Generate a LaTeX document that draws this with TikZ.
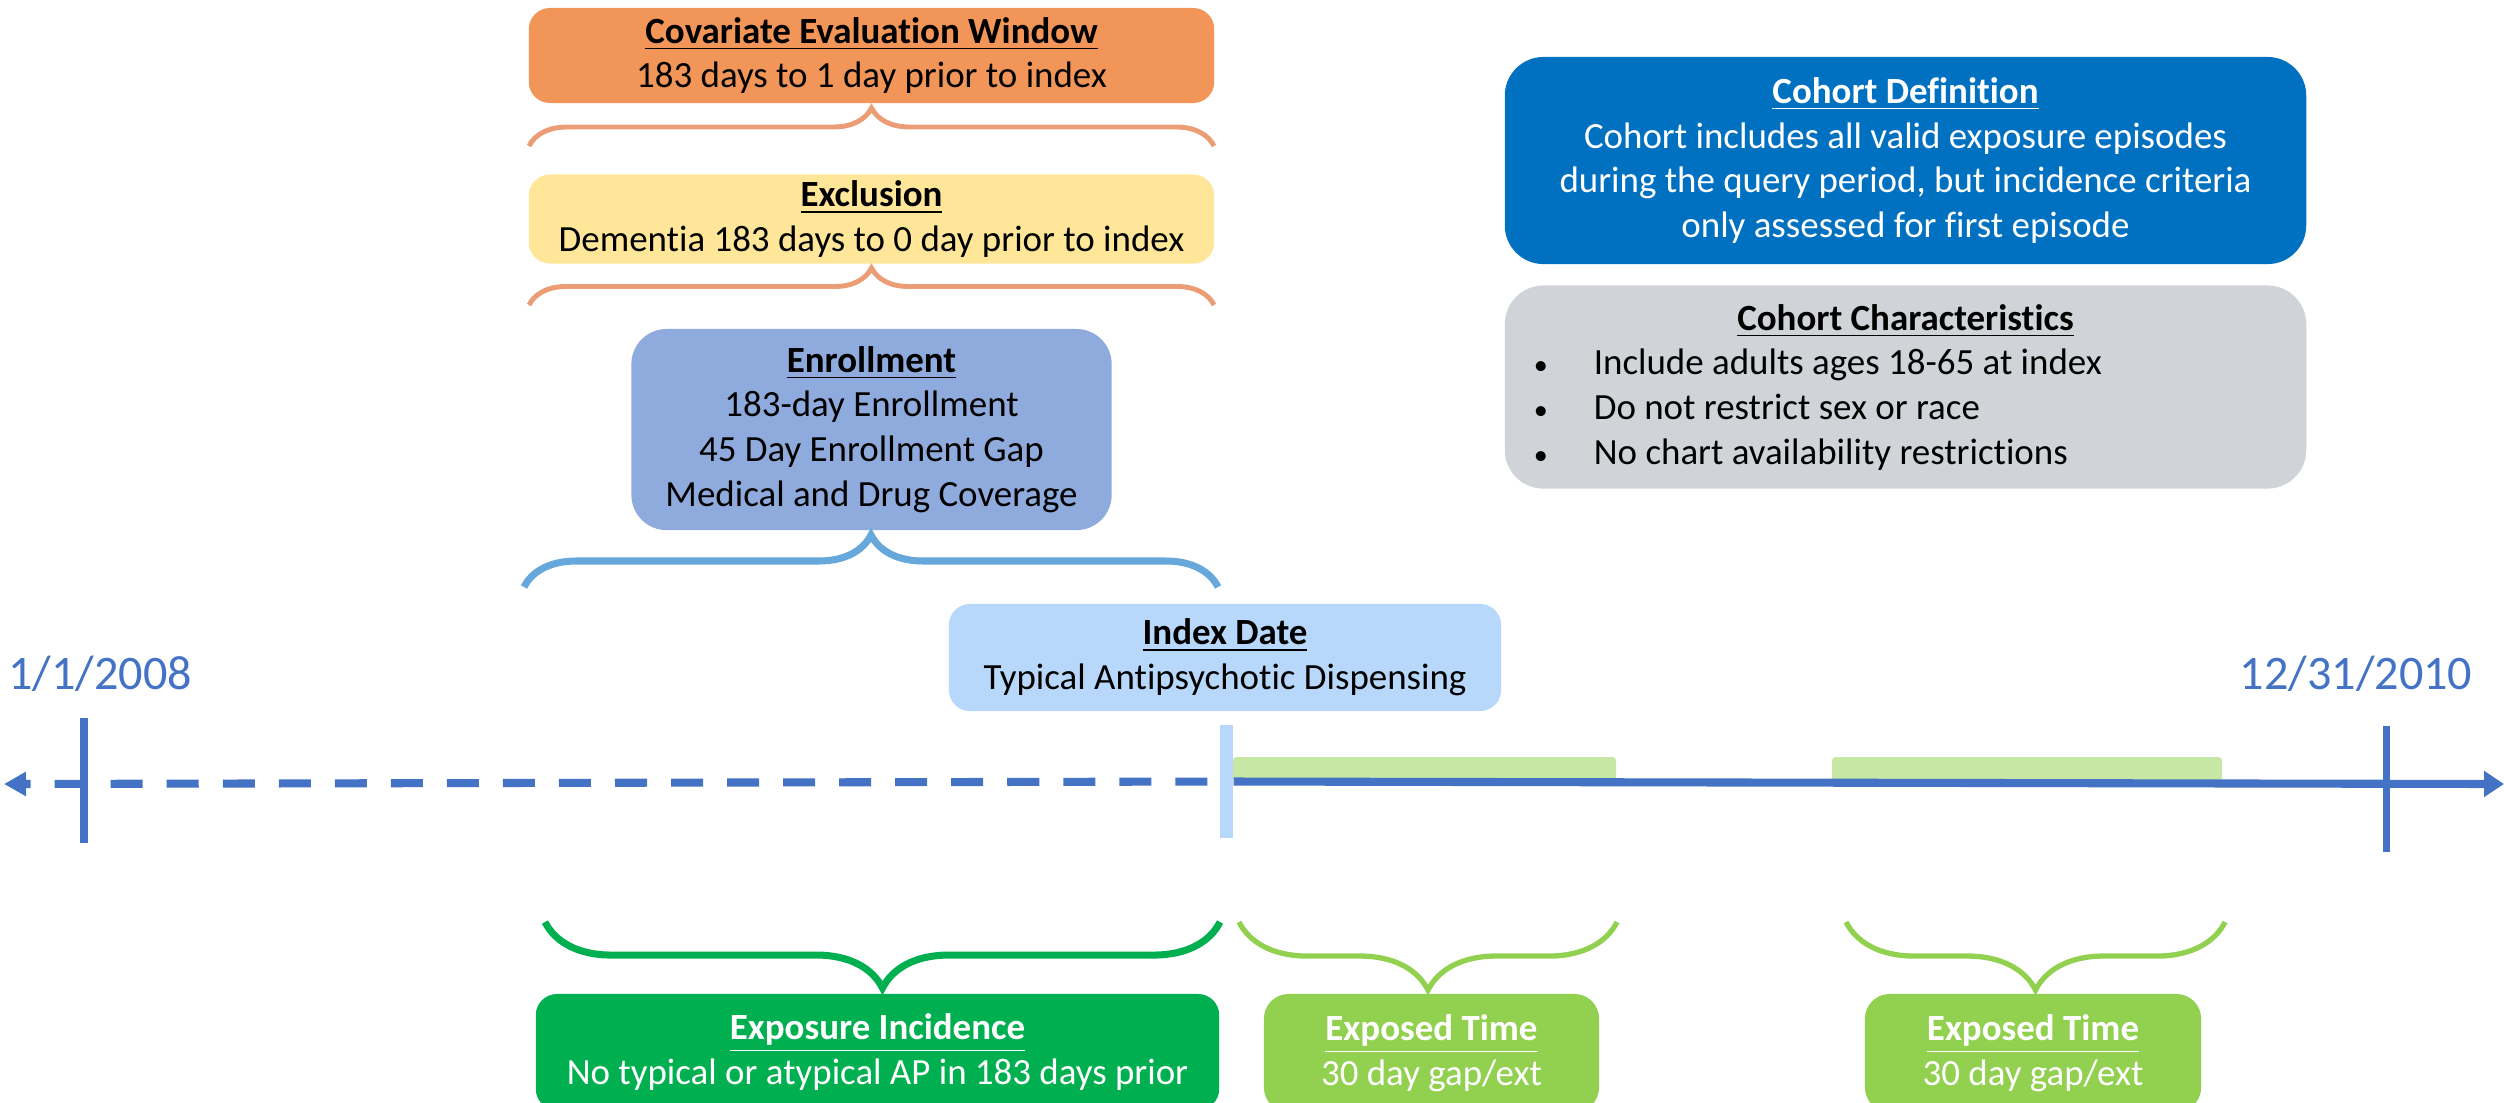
\documentclass[tikz,border=0pt]{standalone}
\usepackage{fontspec}
\setmainfont[Ligatures=NoCommon]{Carlito}
\usetikzlibrary{arrows.meta,positioning,decorations.pathreplacing}
\definecolor{covorange}{RGB}{241,150,88}
\definecolor{braceorange}{RGB}{235,157,118}
\definecolor{exclyellow}{RGB}{255,230,153}
\definecolor{enrblue}{RGB}{143,170,220}
\definecolor{braceblue}{RGB}{102,167,220}
\definecolor{idxblue}{RGB}{183,216,250}
\definecolor{lineblue}{RGB}{68,114,196}
\definecolor{bargreen}{RGB}{199,231,165}
\definecolor{incgreen}{RGB}{0,176,80}
\definecolor{expgreen}{RGB}{146,208,80}
\definecolor{cohblue}{RGB}{0,112,192}
\definecolor{chargrey}{RGB}{208,211,215}
\newcommand{\hd}[1]{\underline{\textbf{#1}}}
\newcommand{\blt}[1]{\makebox[8.01cm][l]{\hspace{0.29cm}\makebox[0.60cm][l]{\footnotesize\textbullet}#1}}

\begin{document}
\begin{tikzpicture}[x=0.01cm,y=-0.01cm,
  bx/.style={rounded corners=6pt,align=center,inner sep=0pt,font=\fontsize{10.5}{12.7}\selectfont},
  wbx/.style={bx,text=white},
  lab/.style={font=\fontsize{13.7}{16}\selectfont,text=lineblue},
  brc/.style={decorate,decoration={brace,amplitude=#1}},
  tl/.style={draw=lineblue,line width=2.3pt},
  tk/.style={draw=lineblue,line width=2pt}]
\useasboundingbox (0,0) rectangle (2504,1102);
\clip (0,0) rectangle (2504,1102);
% windows before the index date
\node[bx,fill=covorange,minimum width=6.85cm,minimum height=0.95cm] (cov) at (871.5,55.5) {\hd{Covariate Evaluation Window}\\183 days to 1 day prior to index};
\node[bx,fill=exclyellow,minimum width=6.85cm,minimum height=0.89cm,below=0.70cm of cov] (exc) {\hd{Exclusion}\\Dementia 183 days to 0 day prior to index};
\node[bx,fill=enrblue,rounded corners=10pt,minimum width=4.80cm,minimum height=2.01cm,below=0.64cm of exc] (enr) {\hd{Enrollment}\\183-day Enrollment\\45 Day Enrollment Gap\\Medical and Drug Coverage};
\coordinate (cb0) at (529,146); \coordinate (cb1) at (1214,146);
\coordinate (xb0) at (529,305); \coordinate (xb1) at (1214,305);
\coordinate (eb0) at (524,587); \coordinate (eb1) at (1218,587);
\draw[brc=0.38cm,draw=braceorange,line width=1.4pt] (cb0) -- (cb1);
\draw[brc=0.37cm,draw=braceorange,line width=1.4pt] (xb0) -- (xb1);
\draw[brc=0.52cm,draw=braceblue,line width=2pt] (eb0) -- (eb1);
% cohort boxes
\node[wbx,fill=cohblue,rounded corners=11pt,minimum width=8.01cm,minimum height=2.07cm] (def) at (1905.5,160.5) {\hd{Cohort Definition}\\Cohort includes all valid exposure episodes\\during the query period, but incidence criteria\\only assessed for first episode};
\node[bx,fill=chargrey,rounded corners=11pt,minimum width=8.01cm,minimum height=2.03cm,below=0.20cm of def] (chr) {\hd{Cohort Characteristics}\\\blt{Include adults ages 18-65 at index}\\\blt{Do not restrict sex or race}\\\blt{No chart availability restrictions}};
% timeline
\node[bx,fill=idxblue,minimum width=5.52cm,minimum height=1.07cm] (idx) at (1225,657.5) {\hd{Index Date}\\Typical Antipsychotic Dispensing};
\node[lab] (start) at (100,674) {1/1/2008};
\node[lab] (end) at (2356,674) {12/31/2010};
\fill[bargreen,rounded corners=1pt] (1233,757) rectangle (1616,781);
\fill[bargreen,rounded corners=1pt] (1832,757) rectangle (2222,781);
\node[fill=idxblue,inner sep=0pt,minimum width=0.13cm,minimum height=1.13cm] (mark) at (1226.5,781.5) {};
\coordinate (tL) at (4,784); \coordinate (tR) at (2504,784);
\draw[tl,dash pattern=on 0.32cm off 0.24cm,dash phase=0.26cm,{Triangle[length=0.22cm,width=0.23cm]}-] (tL) -- (mark.west);
\draw[tl,-{Triangle[length=0.2cm,width=0.25cm]}] (mark.east) -- (tR);
\coordinate (s0) at (84,718); \coordinate (s1) at (84,843);
\coordinate (e0) at (2386,726); \coordinate (e1) at (2386,852);
\draw[tk] (s0) -- (s1);
\draw[tk] (e0) -- (e1);
% after the index date
\coordinate (ib0) at (1220,922); \coordinate (ib1) at (545,922);
\coordinate (pa0) at (1617,922); \coordinate (pa1) at (1239,922);
\coordinate (pb0) at (2225,922); \coordinate (pb1) at (1846,922);
\draw[brc=0.66cm,draw=incgreen,line width=2pt] (ib0) -- (ib1);
\draw[brc=0.68cm,draw=expgreen,line width=1.5pt] (pa0) -- (pa1);
\draw[brc=0.68cm,draw=expgreen,line width=1.5pt] (pb0) -- (pb1);
\node[wbx,fill=incgreen,minimum width=6.83cm,minimum height=1.16cm] (inc) at (877.5,1052) {\hd{Exposure Incidence}\\No typical or atypical AP in 183 days prior};
\node[wbx,fill=expgreen,rounded corners=7pt,minimum width=3.35cm,minimum height=1.18cm] (exp1) at (1431.5,1053) {\hd{Exposed Time}\\30 day gap/ext};
\node[wbx,fill=expgreen,rounded corners=7pt,minimum width=3.36cm,minimum height=1.18cm] (exp2) at (2033,1053) {\hd{Exposed Time}\\30 day gap/ext};
\end{tikzpicture}
\end{document}
